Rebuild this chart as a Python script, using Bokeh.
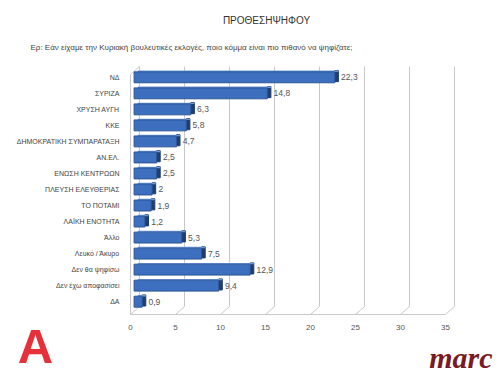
from bokeh.plotting import figure
from bokeh.models import Range1d, FixedTicker, Label, ColumnDataSource, LinearAxis
from bokeh.core.properties import value
from bokeh.embed import file_html
from bokeh.resources import INLINE

title_text = "ΠΡΟΘΕΣΗΨΗΦΟΥ"
subtitle_text = "Ερ: Εάν είχαμε την Κυριακή βουλευτικές εκλογές, ποιο κόμμα είναι πιο πιθανό να ψηφίζατε;"
categories = ["ΝΔ", "ΣΥΡΙΖΑ", "ΧΡΥΣΗ ΑΥΓΗ", "ΚΚΕ", "ΔΗΜΟΚΡΑΤΙΚΗ ΣΥΜΠΑΡΑΤΑΞΗ", "ΑΝ.ΕΛ.",
              "ΕΝΩΣΗ ΚΕΝΤΡΩΩΝ", "ΠΛΕΥΣΗ ΕΛΕΥΘΕΡΙΑΣ", "ΤΟ ΠΟΤΑΜΙ", "ΛΑΪΚΗ ΕΝΟΤΗΤΑ", "Άλλο",
              "Λευκό / Άκυρο", "Δεν θα ψηφίσω", "Δεν έχω αποφασίσει", "ΔΑ"]
values = [22.3, 14.8, 6.3, 5.8, 4.7, 2.5, 2.5, 2, 1.9, 1.2, 5.3, 7.5, 12.9, 9.4, 0.9]
x_ticks = [0, 5, 10, 15, 20, 25, 30, 35]

n = len(categories)
ys = [n - i for i in range(n)]
labels = [("%g" % v).replace(".", ",") for v in values]

FONT = "Liberation Sans"
W, H = 499, 377
X0_PX, Y0_PX = 130.0, 314.0        # pixel of value 0 / floor line
PX = 9.0                            # pixels per value unit
Y0, Y1 = 0.2, 15.675
PY = (Y0_PX - 66.0) / (Y1 - Y0)     # pixels per category step
DEPTH_X, DEPTH_Y = 1.0, 0.5
BAR_OFF = 0.4                       # bars sit in the middle of the 3D depth

x_lo = -X0_PX / PX
x_hi = (W - X0_PX) / PX
y_hi = Y0 + Y0_PX / PY
y_lo = Y0 - (H - Y0_PX) / PY


def xd(px):
    return (px - X0_PX) / PX


def yd(py):
    return Y0 + (Y0_PX - py) / PY


p = figure(width=W, height=H, output_backend="svg", toolbar_location=None,
           x_range=Range1d(x_lo, x_hi), y_range=Range1d(y_lo, y_hi),
           x_axis_type=None, y_axis_type=None,
           min_border=0, min_border_left=0, min_border_right=0,
           min_border_top=0, min_border_bottom=0)
p.outline_line_color = None
p.xgrid.visible = False
p.ygrid.visible = False
p.background_fill_color = "white"

GRID = "#c9c9c9"
# 3D-ish walls/floor
for t in x_ticks:
    p.segment(x0=[t + DEPTH_X], y0=[Y0 + DEPTH_Y], x1=[t + DEPTH_X], y1=[Y1], line_color=GRID, line_width=1)
    p.segment(x0=[t], y0=[Y0], x1=[t + DEPTH_X], y1=[Y0 + DEPTH_Y], line_color=GRID, line_width=1)
p.segment(x0=[0], y0=[Y0], x1=[x_ticks[-1]], y1=[Y0], line_color=GRID, line_width=1)
p.segment(x0=[0], y0=[Y0], x1=[0], y1=[Y1 - DEPTH_Y], line_color=GRID, line_width=1)
p.segment(x0=[0], y0=[Y1 - DEPTH_Y], x1=[DEPTH_X], y1=[Y1], line_color=GRID, line_width=1)

src = ColumnDataSource(dict(
    y=ys, v=values, lab=labels,
    front_r=[v + BAR_OFF for v in values],
    side_r=[v + BAR_OFF + 0.4 for v in values],
    lab_x=[v + 1.1 for v in values],
    top_b=[y + 0.33 for y in ys], top_t=[y + 0.42 for y in ys],
    side_b=[y - 0.27 for y in ys], side_t=[y + 0.42 for y in ys],
))
# side face and top face
p.quad(left="front_r", right="side_r", bottom="side_b", top="side_t", source=src,
       fill_color="#1f3d6e", line_color="#1f3d6e")
p.quad(left=BAR_OFF + 0.4, right="side_r", bottom="top_b", top="top_t", source=src,
       fill_color="#7097d6", line_color=None)
# front face
p.hbar(y="y", left=BAR_OFF, right="front_r", height=0.68, source=src,
       fill_color="#3d6fbf", line_color="#2b5596", line_width=1)

p.text(x="lab_x", y="y", text="lab", source=src, text_font_size="8.5px", text_color="#555555",
       text_baseline="middle", text_align="left", text_font=value(FONT))

# axes at fixed locations (take no panel space)
xaxis = LinearAxis(fixed_location=Y0, ticker=FixedTicker(ticks=x_ticks))
xaxis.major_tick_line_color = None
xaxis.minor_tick_line_color = None
xaxis.axis_line_color = None
xaxis.major_label_text_font_size = "8px"
xaxis.major_label_text_color = "#555555"
xaxis.major_label_text_font = FONT
xaxis.major_label_standoff = 4
p.add_layout(xaxis, "below")

yaxis = LinearAxis(fixed_location=0, ticker=FixedTicker(ticks=ys))
yaxis.major_label_overrides = {y: c for y, c in zip(ys, categories)}
yaxis.major_tick_line_color = None
yaxis.minor_tick_line_color = None
yaxis.axis_line_color = None
yaxis.major_label_text_font_size = "7px"
yaxis.major_label_text_color = "#444444"
yaxis.major_label_text_font = FONT
yaxis.major_label_standoff = 5
p.add_layout(yaxis, "left")

# titles and logos
p.add_layout(Label(x=xd(266), y=yd(20), text=title_text, text_align="center", text_baseline="middle",
                   text_font=FONT, text_font_size="10px", text_color="#333333"))
p.add_layout(Label(x=xd(30), y=yd(47), text=subtitle_text, text_align="left", text_baseline="middle",
                   text_font=FONT, text_font_size="8px", text_color="#444444"))
p.add_layout(Label(x=xd(35), y=yd(345), text="A", text_align="center", text_baseline="middle",
                   text_font=FONT, text_font_style="bold", text_font_size="49px", text_color="#e6303a"))
p.add_layout(Label(x=xd(492), y=yd(357), text="marc", text_align="right", text_baseline="middle",
                   text_font="Liberation Serif", text_font_style="bold italic", text_font_size="30px",
                   text_color="#7a1a22"))

open("out.html", "w").write(file_html(p, INLINE))
